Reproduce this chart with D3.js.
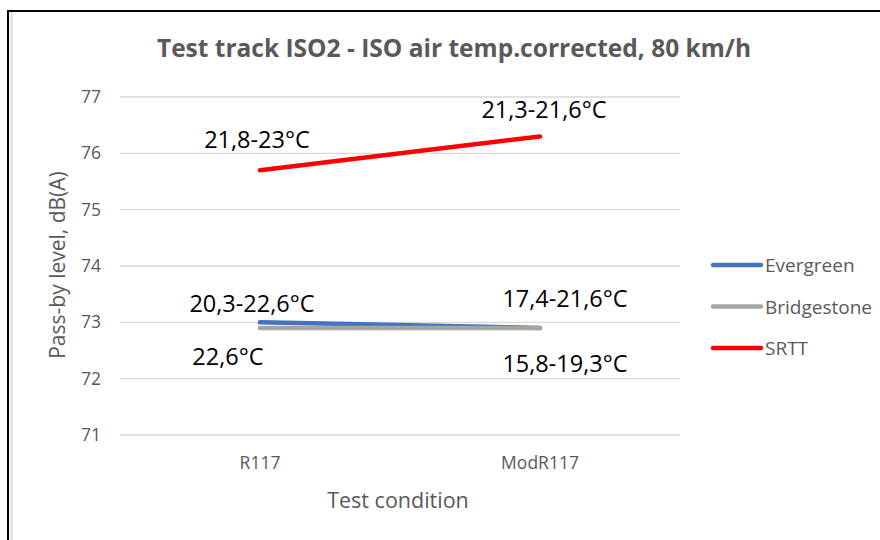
<!DOCTYPE html>
<html><head><meta charset="utf-8">
<script src="https://cdn.jsdelivr.net/npm/d3@7"></script>
<style>html,body{margin:0;padding:0;background:#fff;}svg{display:block;font-family:"Open Sans",sans-serif;}</style>
</head><body>
<svg id="c" width="880" height="540"></svg>
<script>
const categories = ["R117", "ModR117"];
const seriesNames = ["Evergreen", "Bridgestone", "SRTT"];
const evergreen = [73.0, 72.9];
const bridgestone = [72.9, 72.9];
const srtt = [75.7, 76.3];
const yTicks = [71, 72, 73, 74, 75, 76, 77];
const evergreenLabels = ["20,3-22,6°C", "17,4-21,6°C"];
const bridgestoneLabels = ["22,6°C", "15,8-19,3°C"];
const srttLabels = ["21,8-23°C", "21,3-21,6°C"];
const colors = ["#4472C4", "#A5A5A5", "#FF0000"];

const series = [
  {name: seriesNames[0], values: evergreen, labels: evergreenLabels, color: colors[0]},
  {name: seriesNames[1], values: bridgestone, labels: bridgestoneLabels, color: colors[1]},
  {name: seriesNames[2], values: srtt, labels: srttLabels, color: colors[2]}
];
// label offsets (layout only): [series][category] -> [dx, dy] relative to point
const labelOffsets = [
  [[-8, -10], [25, -21]],
  [[-32, 37], [25, 44]],
  [[-3, -22], [4, -18]]
];

const svg = d3.select("#c");
// frame
svg.append("rect").attr("x",10).attr("y",11).attr("width",3).attr("height",529).attr("fill","#e3e3e3");
svg.append("line").attr("x1",8).attr("x2",8).attr("y1",10).attr("y2",540).attr("stroke","#000").attr("stroke-width",2);
svg.append("line").attr("x1",7).attr("x2",880).attr("y1",11).attr("y2",11).attr("stroke","#000").attr("stroke-width",2);

const x = d3.scaleBand().domain(categories).range([120, 680]);
const y = d3.scaleLinear().domain([71, 77]).range([435, 97]);
const cx = c => x(c) + x.bandwidth()/2;

// grid
svg.append("g").selectAll("line").data(yTicks).join("line")
  .attr("x1",120).attr("x2",680).attr("y1",d=>y(d)).attr("y2",d=>y(d))
  .attr("stroke","#d9d9d9").attr("stroke-width",1.3);

// y axis (labels only)
const yAxis = d3.axisLeft(y).tickValues(yTicks).tickSize(0).tickPadding(0).tickFormat(d3.format("d"));
const gy = svg.append("g").attr("transform","translate(101,0)").call(yAxis);
gy.select(".domain").remove();
gy.selectAll("text").attr("fill","#595959").attr("font-size",17.5).attr("font-family","Open Sans, sans-serif");

// x axis labels
const xAxis = d3.axisBottom(x).tickSize(0).tickPadding(0);
const gx = svg.append("g").attr("transform","translate(0,457)").call(xAxis);
gx.select(".domain").remove();
gx.selectAll("text").attr("fill","#595959").attr("font-size",17.5).attr("font-family","Open Sans, sans-serif");

// lines
const line = d3.line().x((d,i)=>cx(categories[i])).y(d=>y(d));
svg.append("g").selectAll("path").data(series).join("path")
  .attr("d", d=>line(d.values)).attr("fill","none").attr("stroke",d=>d.color)
  .attr("stroke-width",4.5).attr("stroke-linecap","round");

// data labels
series.forEach((s, si) => {
  s.values.forEach((v, ci) => {
    const [dx, dy] = labelOffsets[si][ci];
    svg.append("text").attr("x", cx(categories[ci]) + dx).attr("y", y(v) + dy)
      .attr("text-anchor","middle").attr("font-size",23.5).attr("fill","#000")
      .text(s.labels[ci]);
  });
});

// title
svg.append("text").attr("x",454).attr("y",57).attr("text-anchor","middle")
  .attr("font-size",24.5).attr("font-weight","bold").attr("fill","#595959")
  .text("Test track ISO2 - ISO air temp.corrected, 80 km/h");

// axis titles
svg.append("text").attr("transform","translate(65,265) rotate(-90)").attr("text-anchor","middle")
  .attr("font-size",21).attr("fill","#595959").text("Pass-by level, dB(A)");
svg.append("text").attr("x",398).attr("y",508).attr("text-anchor","middle")
  .attr("font-size",21.5).attr("fill","#595959").text("Test condition");

// legend
const legendY = d3.scalePoint().domain(seriesNames).range([265, 348]);
const lg = svg.append("g").selectAll("g").data(series).join("g")
  .attr("transform",d=>`translate(0,${legendY(d.name)})`);
lg.append("line").attr("x1",713).attr("x2",761).attr("y1",0).attr("y2",0)
  .attr("stroke",d=>d.color).attr("stroke-width",4.5).attr("stroke-linecap","round");
lg.append("text").attr("x",765).attr("y",7).attr("font-size",19).attr("fill","#595959").text(d=>d.name);
</script>
</body></html>
